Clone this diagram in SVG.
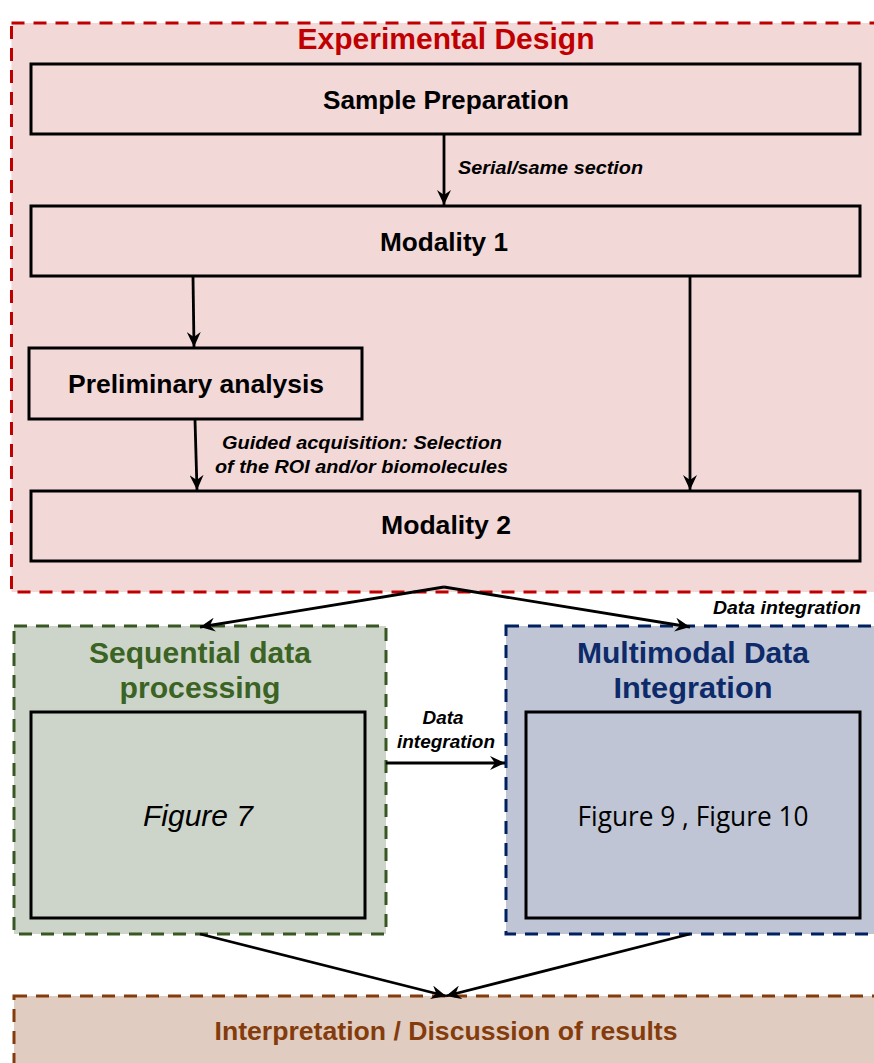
<svg xmlns="http://www.w3.org/2000/svg" width="874" height="1063" viewBox="0 0 874 1063">
<defs>
<marker id="ah" viewBox="0 0 16 14" refX="15" refY="7" markerWidth="16" markerHeight="14" markerUnits="userSpaceOnUse" orient="auto">
<path d="M0,0 L15,7 L0,14 L5,7 Z" fill="#000"/>
</marker>
<style>
.grp{stroke-width:3;stroke-dasharray:13 9}
.box{fill:none;stroke:#000;stroke-width:3}
.t{font-family:"Liberation Sans",Arial,sans-serif;font-weight:bold;text-anchor:middle}
.lbl{font-family:"Liberation Sans",Arial,sans-serif;font-weight:bold;font-style:italic;font-size:19px;fill:#000}
.conn{fill:none;stroke:#000;stroke-width:2.8;marker-end:url(#ah)}
</style>
</defs>
<rect width="874" height="1063" fill="#fff"/>

<g id="experimental-design">
<rect class="grp" x="11.5" y="23" width="880" height="569" fill="#F3D8D8" stroke="#C00000"/>
<text class="t" x="446" y="49" font-size="29" fill="#C00000" textLength="297" lengthAdjust="spacingAndGlyphs">Experimental Design</text>
</g>

<g id="sample-preparation">
<rect class="box" x="31" y="64" width="829" height="70"/>
<text class="t" x="446" y="109" font-size="25" textLength="246" lengthAdjust="spacingAndGlyphs">Sample Preparation</text>
</g>

<g id="modality-1">
<rect class="box" x="31" y="206" width="829" height="70"/>
<text class="t" x="444" y="251" font-size="25" textLength="128" lengthAdjust="spacingAndGlyphs">Modality 1</text>
</g>

<g id="preliminary-analysis">
<rect class="box" x="29" y="348" width="333" height="71"/>
<text class="t" x="196" y="393" font-size="25" textLength="256" lengthAdjust="spacingAndGlyphs">Preliminary analysis</text>
</g>

<g id="modality-2">
<rect class="box" x="31" y="491" width="829" height="70"/>
<text class="t" x="446" y="534" font-size="25" textLength="130" lengthAdjust="spacingAndGlyphs">Modality 2</text>
</g>

<g id="sequential-data-processing">
<rect class="grp" x="14" y="626" width="372" height="308" fill="#CDD5CA" stroke="#385723"/>
<text class="t" x="200" y="663" font-size="30" fill="#3B6323" textLength="222" lengthAdjust="spacingAndGlyphs">Sequential data</text>
<text class="t" x="200" y="698" font-size="30" fill="#3B6323" textLength="161" lengthAdjust="spacingAndGlyphs">processing</text>
<rect class="box" x="31" y="712" width="334" height="206"/>
<text x="198" y="826" font-family="Liberation Sans,Arial,sans-serif" font-style="italic" font-size="30" text-anchor="middle" fill="#000" textLength="110" lengthAdjust="spacingAndGlyphs">Figure 7</text>
</g>

<g id="multimodal-data-integration">
<rect class="grp" x="506" y="626" width="390" height="308" fill="#BFC5D4" stroke="#002060"/>
<text class="t" x="693" y="663" font-size="30" fill="#0D2A6A" textLength="232" lengthAdjust="spacingAndGlyphs">Multimodal Data</text>
<text class="t" x="693" y="698" font-size="30" fill="#0D2A6A" textLength="159" lengthAdjust="spacingAndGlyphs">Integration</text>
<rect class="box" x="526" y="712" width="334" height="206"/>
<text x="693" y="826" font-family="Open Sans,Liberation Sans,sans-serif" font-size="27" text-anchor="middle" fill="#000" textLength="231" lengthAdjust="spacingAndGlyphs">Figure 9 , Figure 10</text>
</g>

<g id="interpretation">
<rect class="grp" x="14" y="996" width="880" height="90" fill="#E0CCC0" stroke="#843C0C"/>
<text class="t" x="446" y="1040" font-size="25" fill="#843C0C" textLength="463" lengthAdjust="spacingAndGlyphs">Interpretation / Discussion of results</text>
</g>

<g id="connectors">
<line class="conn" x1="444" y1="135" x2="444" y2="205"/>
<line class="conn" x1="193" y1="277" x2="194" y2="347"/>
<line class="conn" x1="690" y1="277" x2="690" y2="490"/>
<line class="conn" x1="195" y1="420" x2="197" y2="490"/>
<polyline class="conn" points="444,587 200,627"/>
<polyline class="conn" points="444,587 690,627"/>
<line class="conn" x1="386" y1="763" x2="505" y2="763"/>
<line class="conn" x1="200" y1="934" x2="446" y2="996"/>
<line class="conn" x1="690" y1="934" x2="446" y2="996"/>
<text class="lbl" x="458" y="174" textLength="185" lengthAdjust="spacingAndGlyphs">Serial/same section</text>
<text class="lbl" x="222" y="449" textLength="280" lengthAdjust="spacingAndGlyphs">Guided acquisition: Selection</text>
<text class="lbl" x="215" y="473" textLength="293" lengthAdjust="spacingAndGlyphs">of the ROI and/or biomolecules</text>
<text class="lbl" x="713" y="614" textLength="148" lengthAdjust="spacingAndGlyphs">Data integration</text>
<text class="lbl" x="443" y="724" text-anchor="middle" textLength="41" lengthAdjust="spacingAndGlyphs">Data</text>
<text class="lbl" x="446" y="748" text-anchor="middle" textLength="98" lengthAdjust="spacingAndGlyphs">integration</text>
</g>
</svg>
